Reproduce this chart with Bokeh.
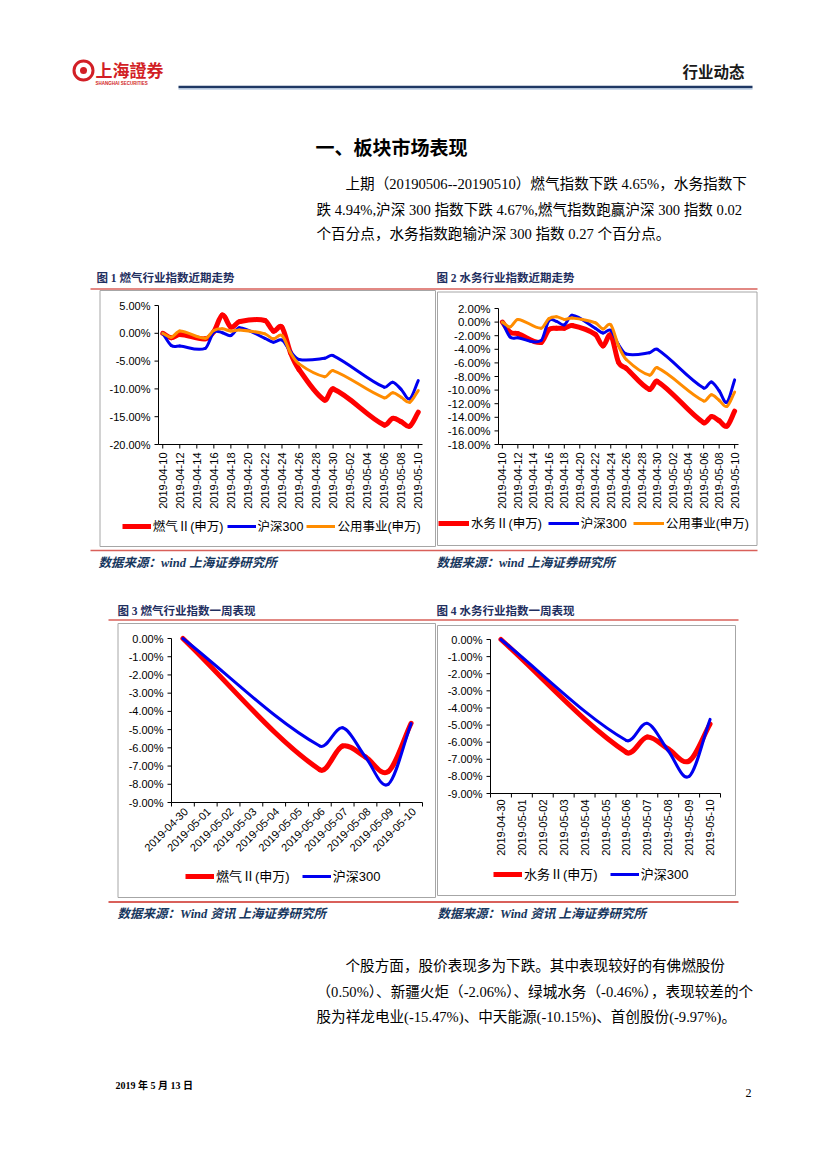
import math
from datetime import date
from bokeh.plotting import figure
from bokeh.models import Range1d, Legend, LegendItem, ColumnDataSource
from bokeh.core.properties import value
from bokeh.embed import file_html
from bokeh.resources import INLINE

# ---------------- data ----------------
month_dates = ["2019-04-10", "2019-04-11", "2019-04-12", "2019-04-15", "2019-04-16",
               "2019-04-17", "2019-04-18", "2019-04-19", "2019-04-22", "2019-04-23",
               "2019-04-24", "2019-04-25", "2019-04-26", "2019-04-29", "2019-04-30",
               "2019-05-06", "2019-05-07", "2019-05-08", "2019-05-09", "2019-05-10"]
gas_month = [0, -0.8, -0.2, -1.0, 0.3, 3.3, 1.1, 2.1, 2.3, 0.4, 1.1, -3.5, -6.5,
             -12.0, -10.0, -16.5, -15.3, -15.9, -16.7, -14.2]
water_month = [0, -1.5, -1.7, -3.0, -1.1, -0.9, -0.9, -0.5, -1.8, -3.5, -1.9, -5.9, -6.8,
               -9.9, -8.7, -14.8, -13.9, -14.5, -15.3, -13.1]
hs300_month = [0, -2.2, -2.3, -2.7, 0.2, 0.1, -0.4, 1.0, -0.9, -1.6, -1.2, -3.3, -4.7,
               -4.5, -4.0, -9.7, -8.8, -10.1, -11.8, -8.5]
util_month = [0, -0.7, 0.4, -0.9, 0.5, 0.8, 0.4, 0.6, -0.1, -1.0, -0.4, -3.5, -5.5,
              -7.8, -6.7, -11.6, -10.7, -11.5, -12.4, -10.3]
month_ticks = ["2019-04-10", "2019-04-12", "2019-04-14", "2019-04-16", "2019-04-18",
               "2019-04-20", "2019-04-22", "2019-04-24", "2019-04-26", "2019-04-28",
               "2019-04-30", "2019-05-02", "2019-05-04", "2019-05-06", "2019-05-08",
               "2019-05-10"]
gas_y_ticks = [5, 0, -5, -10, -15, -20]
water_y_ticks = [2, 0, -2, -4, -6, -8, -10, -12, -14, -16, -18]

week_categories = ["2019-04-30", "2019-05-01", "2019-05-02", "2019-05-03", "2019-05-04",
                   "2019-05-05", "2019-05-06", "2019-05-07", "2019-05-08", "2019-05-09",
                   "2019-05-10"]
week_dates = ["2019-04-30", "2019-05-06", "2019-05-07", "2019-05-08", "2019-05-09", "2019-05-10"]
gas_week = [0, -7.2, -5.9, -6.5, -7.3, -4.65]
water_week = [0, -6.6, -5.7, -6.4, -7.1, -4.94]
hs300_week = [0, -5.9, -4.9, -6.5, -8.0, -4.67]
week_y_ticks = [0, -1, -2, -3, -4, -5, -6, -7, -8, -9]

name_gas = "燃气Ⅱ(申万)"
name_water = "水务Ⅱ(申万)"
name_hs = "沪深300"
name_util = "公用事业(申万)"

RED = "#FF0000"
BLUE = "#0000F0"
ORANGE = "#FF8C00"

SANS = "Liberation Sans, Noto Sans CJK SC"
SERIF = "Liberation Serif, Noto Sans CJK SC"
CJK = "Noto Sans CJK SC"

# page canvas maps 1:1 onto the photographed window (window pixel coordinates)
PX0, PX1, PY_TOP, PY_BOT = 0, 826, 0, 1168

p = figure(width=PX1 - PX0, height=PY_BOT - PY_TOP, output_backend="svg",
           toolbar_location=None, x_range=Range1d(PX0, PX1), y_range=Range1d(PY_BOT, PY_TOP),
           x_axis_location=None, y_axis_location=None, min_border=0)
p.outline_line_color = None
p.xgrid.visible = False
p.ygrid.visible = False
p.background_fill_color = "white"
p.border_fill_color = "white"

extra_x = {}
extra_y = {}


def day_offset(d, base):
    return (date.fromisoformat(d) - date.fromisoformat(base)).days


def register_chart(key, X0, X1, Yt, Yb, xr, yr):
    a, b = xr
    sx = (b - a) / (X1 - X0)
    extra_x[key] = Range1d(a - (X0 - PX0) * sx, b + (PX1 - X1) * sx)
    ymin, ymax = yr
    sy = (ymax - ymin) / (Yb - Yt)
    extra_y[key] = Range1d(ymin - (PY_BOT - Yb) * sy, ymax + (Yt - PY_TOP) * sy)


def smooth_source(xs, ys):
    n = len(xs)
    m = []
    for i in range(n):
        if i == 0:
            m.append((ys[1] - ys[0]) / (xs[1] - xs[0]))
        elif i == n - 1:
            m.append((ys[-1] - ys[-2]) / (xs[-1] - xs[-2]))
        else:
            m.append((ys[i + 1] - ys[i - 1]) / (xs[i + 1] - xs[i - 1]))
    d = dict(x0=[], y0=[], x1=[], y1=[], cx0=[], cy0=[], cx1=[], cy1=[])
    for i in range(n - 1):
        h = xs[i + 1] - xs[i]
        d["x0"].append(xs[i]); d["y0"].append(ys[i])
        d["x1"].append(xs[i + 1]); d["y1"].append(ys[i + 1])
        d["cx0"].append(xs[i] + h / 3); d["cy0"].append(ys[i] + m[i] * h / 3)
        d["cx1"].append(xs[i + 1] - h / 3); d["cy1"].append(ys[i + 1] - m[i + 1] * h / 3)
    return ColumnDataSource(d)


def add_series(key, xs, ys, color, width):
    p.bezier(x0="x0", y0="y0", x1="x1", y1="y1", cx0="cx0", cy0="cy0", cx1="cx1",
             cy1="cy1", source=smooth_source(xs, ys), line_color=color,
             line_width=width, line_cap="round", x_range_name=key, y_range_name=key)
    # legend proxy: one undefined point, draws nothing on the plot
    return p.line(x=[float("nan")], y=[float("nan")], line_color=color, line_width=width)


def draw_axes(key, xr, yr, x_ticks, x_labels, x_angle, x_off, x_tick_marks,
              y_ticks, y_size, x_size="11px"):
    a, b = xr
    ymin, ymax = yr
    kw = dict(x_range_name=key, y_range_name=key)
    p.segment(x0=[a, a], y0=[ymin, ymin], x1=[b, a], y1=[ymin, ymax],
              line_color="black", line_width=1, **kw)
    p.ray(x=[a] * len(y_ticks), y=y_ticks, length=4, angle=math.pi, length_units="screen",
          line_color="black", line_width=1, **kw)
    p.text(x=[a] * len(y_ticks), y=y_ticks, text=[f"{v:.2f}%" for v in y_ticks],
           x_offset=-8, text_align="right", text_baseline="middle",
           text_font=value(SANS), text_font_size=y_size, text_color="black", **kw)
    p.ray(x=x_tick_marks, y=[ymin] * len(x_tick_marks), length=4, angle=-math.pi / 2,
          length_units="screen", line_color="black", line_width=1, **kw)
    p.text(x=x_ticks, y=[ymin] * len(x_ticks), text=x_labels, angle=x_angle,
           x_offset=x_off[0], y_offset=x_off[1], text_align="right", text_baseline="middle",
           text_font=value(SANS), text_font_size=x_size, text_color="black", **kw)


legends = []


def add_legend(items, loc, glyph_w, spacing, size):
    leg = Legend(items=[LegendItem(label=lab, renderers=[r]) for lab, r in items],
                 location=loc, orientation="horizontal", padding=0, margin=0,
                 spacing=spacing, glyph_width=glyph_w, glyph_height=14, label_height=14,
                 label_standoff=2, border_line_color=None, background_fill_color=None,
                 label_text_font=SANS, label_text_font_size=size, label_text_color="black")
    legends.append(leg)


def month_chart(key, frame, yr, series_name, series_vals, y_ticks, y_size, legend_loc,
                glyph_w, spacing):
    X0, X1, Yt, Yb = frame
    xr = (-0.5, 30.5)
    register_chart(key, X0, X1, Yt, Yb, xr, yr)
    base = month_dates[0]
    xs = [day_offset(d, base) for d in month_dates]
    r1 = add_series(key, xs, series_vals, RED, 5)
    r2 = add_series(key, xs, hs300_month, BLUE, 3)
    r3 = add_series(key, xs, util_month, ORANGE, 3)
    ticks = [day_offset(d, base) for d in month_ticks]
    draw_axes(key, xr, yr, ticks, month_ticks, math.pi / 2, (0, 8), ticks, y_ticks, y_size)
    add_legend([(series_name, r1), (name_hs, r2), (name_util, r3)], legend_loc,
               glyph_w, spacing, "12.5px")


def week_chart(key, frame, series_name, series_vals, angle, x_off, legend_loc):
    X0, X1, Yt, Yb = frame
    n = len(week_categories)
    xr = (-0.5, n - 0.5)
    yr = (-9, 0)
    register_chart(key, X0, X1, Yt, Yb, xr, yr)
    xs = [week_categories.index(d) for d in week_dates]
    r1 = add_series(key, xs, series_vals, RED, 5)
    r2 = add_series(key, xs, hs300_week, BLUE, 3)
    idx = list(range(n))
    bounds = [i - 0.5 for i in idx] + [n - 0.5]
    draw_axes(key, xr, yr, idx, week_categories, angle, x_off, bounds, week_y_ticks, "11px")
    add_legend([(series_name, r1), (name_hs, r2)], legend_loc, 29, 12, "13px")


# ---------------- page decorations ----------------
def txt(x, y, s, size, color="#000000", style="normal", font=CJK, align="left"):
    p.text(x=[x], y=[y], text=[s], text_font=value(font), text_font_size=f"{size}px",
           text_color=color, text_font_style=style, text_align=align,
           text_baseline="middle")


def hline(x0, x1, y, color, width):
    p.segment(x0=[x0], y0=[y], x1=[x1], y1=[y], line_color=color, line_width=width)


def box(l, r, t, b):
    p.quad(left=[l], right=[r], top=[t], bottom=[b], fill_color=None,
           line_color="#A6A6A6", line_width=1)


# header
p.scatter(x=[83], y=[70], marker="circle", size=19, fill_color=None,
          line_color="#D21F26", line_width=3)
p.scatter(x=[83], y=[70], marker="circle", size=7, fill_color="#D21F26", line_color=None)
txt(95, 69, "上海證券", 17, "#D21F26", "bold")
txt(95, 83, "SHANGHAI SECURITIES", 4.5, "#D21F26", "bold", SANS)
txt(682, 70, "行业动态", 15.5, "#1A1A1A", "bold")
hline(178, 752, 86.5, "#1F3864", 2.5)
hline(178, 752, 88.5, "#9DB7D9", 1)

# section title + paragraph
BODY = 14.6
txt(315, 146, "一、板块市场表现", 19, "#000000", "bold")
txt(345, 183.5, "上期（20190506--20190510）燃气指数下跌 4.65%，水务指数下", BODY, font=SERIF)
txt(316, 209, "跌 4.94%,沪深 300 指数下跌 4.67%,燃气指数跑赢沪深 300 指数 0.02", BODY, font=SERIF)
txt(316, 233.5, "个百分点，水务指数跑输沪深 300 指数 0.27 个百分点。", BODY, font=SERIF)

NAVY = "#1F2F5F"
REDLINE = "#D9605A"
SRC = "#17375E"
txt(96, 277.5, "图 1 燃气行业指数近期走势", 11.5, NAVY, "bold", SERIF)
txt(436, 277.5, "图 2 水务行业指数近期走势", 11.5, NAVY, "bold", SERIF)
hline(90, 757, 288.5, REDLINE, 1.5)
box(99.5, 435, 290, 546)
box(437, 756.5, 291.5, 545)
hline(90, 757, 550, REDLINE, 1.5)
txt(98, 562, "数据来源：wind 上海证券研究所", 12.5, SRC, "bold italic", SERIF)
txt(436, 562, "数据来源：wind 上海证券研究所", 12.5, SRC, "bold italic", SERIF)

txt(117, 610, "图  3  燃气行业指数一周表现", 11.5, NAVY, "bold", SERIF)
txt(436, 610, "图  4  水务行业指数一周表现", 11.5, NAVY, "bold", SERIF)
hline(108, 738, 619.5, REDLINE, 1.5)
box(117.5, 435, 623, 897)
box(437, 735, 625, 895)
hline(108, 738, 901.5, REDLINE, 2)
txt(117, 913, "数据来源：Wind 资讯 上海证券研究所", 12.5, SRC, "bold italic", SERIF)
txt(437, 913, "数据来源：Wind 资讯 上海证券研究所", 12.5, SRC, "bold italic", SERIF)

txt(345, 965.5, "个股方面，股价表现多为下跌。其中表现较好的有佛燃股份", BODY, font=SERIF)
txt(316, 991, "（0.50%）、新疆火炬（-2.06%）、绿城水务（-0.46%），表现较差的个", BODY, font=SERIF)
txt(316, 1016, "股为祥龙电业(-15.47%)、中天能源(-10.15%)、首创股份(-9.97%)。", BODY, font=SERIF)

txt(115, 1085, "2019 年 5 月 13 日", 10, "#000000", "bold", SERIF)
txt(745, 1092, "2", 12, "#000000", "normal", SERIF)

# ---------------- charts ----------------
# frames in window pixels: (left, right, top, bottom)
month_chart("c1", (158, 422, 305, 444), (-20, 5), name_gas, gas_month, gas_y_ticks, "11px",
            (121.7 - PX0, PY_BOT - 535), 29, 3)
month_chart("c2", (498, 738, 308, 444), (-18, 2), name_water, water_month, water_y_ticks,
            "11.5px", (438 - PX0, PY_BOT - 532), 31, 6)
week_chart("c3", (171, 422, 638, 802), name_gas, gas_week, math.pi / 4, (3, 7),
           (185 - PX0, PY_BOT - 885))
week_chart("c4", (490, 720, 639, 793), name_water, water_week, math.pi / 2, (0, 6),
           (493 - PX0, PY_BOT - 883))

p.extra_x_ranges = extra_x
p.extra_y_ranges = extra_y
for leg in legends:
    p.add_layout(leg, "center")

open("out.html", "w").write(file_html(p, INLINE))
